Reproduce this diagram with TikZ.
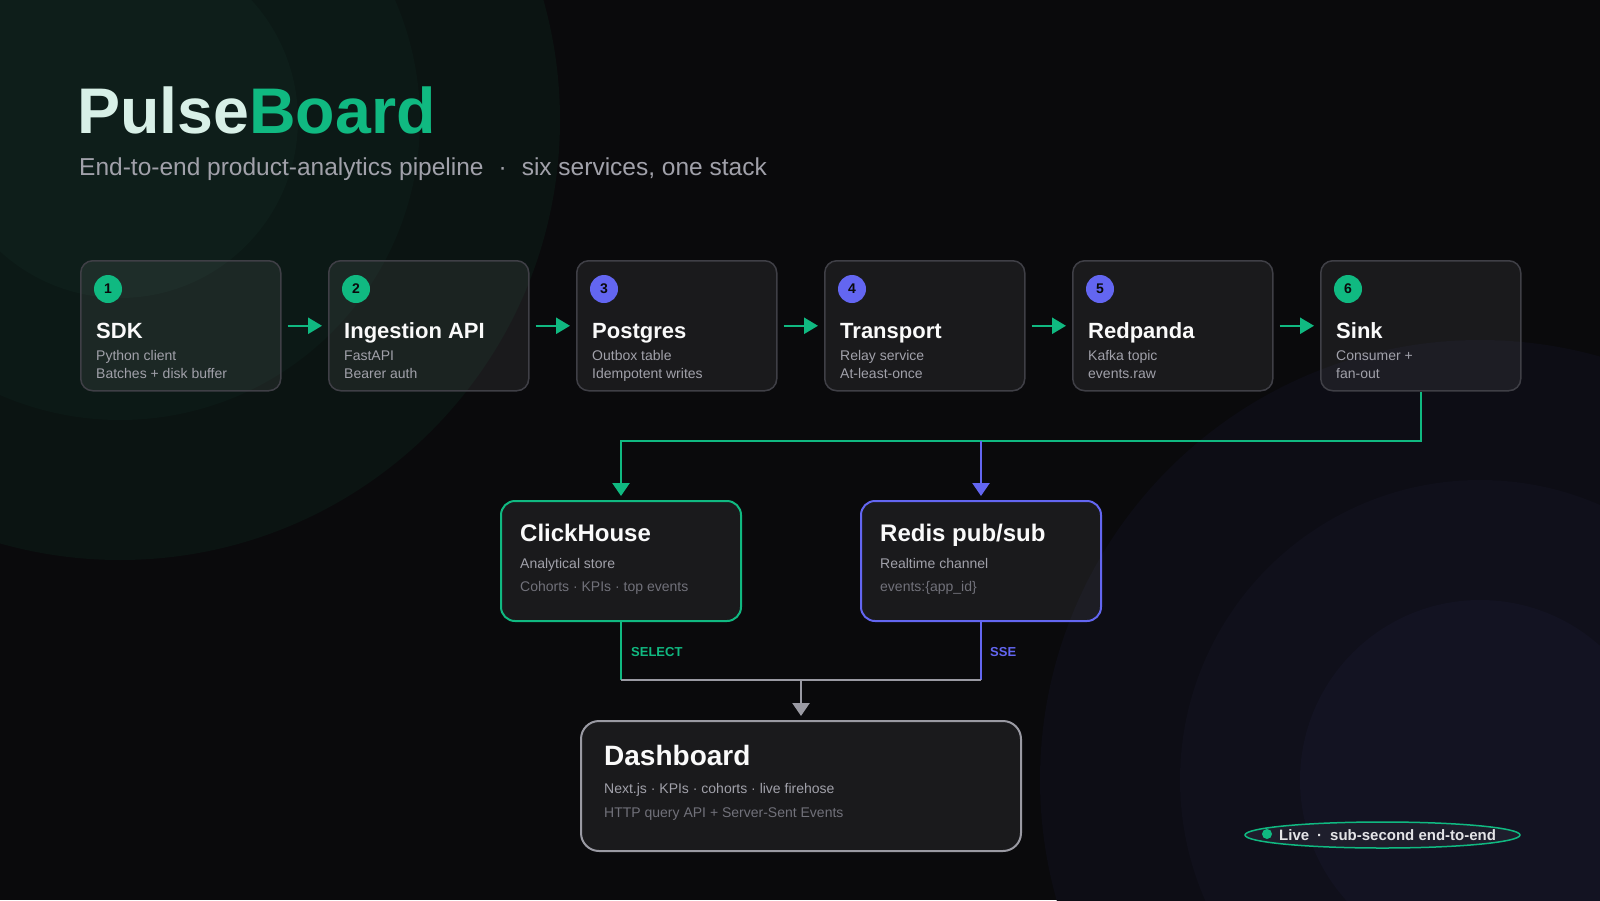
\documentclass[tikz,border=0pt]{standalone}
\usepackage{fontspec}
\setmainfont{Liberation Sans}
\usetikzlibrary{arrows.meta,shapes.geometric}
\definecolor{bg}{HTML}{0A0A0C}
\definecolor{tlA}{HTML}{0B1412}
\definecolor{tlB}{HTML}{0C1916}
\definecolor{tlC}{HTML}{0E1E1A}
\definecolor{brA}{HTML}{0D0D15}
\definecolor{brB}{HTML}{10101B}
\definecolor{brC}{HTML}{131322}
\definecolor{emer}{HTML}{10B981}
\definecolor{indi}{HTML}{6366F1}
\definecolor{pulse}{HTML}{D8F0E7}
\definecolor{edge}{HTML}{3F3F46}
\definecolor{titlec}{HTML}{FAFAFA}
\definecolor{subc}{HTML}{A1A1AA}
\definecolor{dimc}{HTML}{71717A}
\definecolor{grayl}{HTML}{9A9AA3}
\definecolor{pillc}{HTML}{1E1E2C}
\definecolor{pilltext}{HTML}{E4E4E7}
\tikzset{
  stage/.style={draw=edge, line width=1.5pt, rounded corners=12pt, fill=white, fill opacity=0.065,
    minimum width=200pt, minimum height=130pt, inner sep=0pt, anchor=north west},
  store/.style={draw=#1, line width=2pt, rounded corners=14pt, fill=white, fill opacity=0.065,
    minimum width=240pt, minimum height=120pt, inner sep=0pt, anchor=north west},
  badge/.style={circle, fill=#1, minimum size=28pt, inner sep=0pt, text=bg,
    font=\bfseries\fontsize{14}{14}\selectfont},
  stitle/.style={anchor=base west, inner sep=0pt, text=titlec, font=\bfseries\fontsize{22}{22}\selectfont},
  btitle/.style={anchor=base west, inner sep=0pt, text=titlec, font=\bfseries\fontsize{24}{24}\selectfont},
  ssub/.style={anchor=base west, inner sep=0pt, text=subc, font=\fontsize{14}{14}\selectfont},
  sdim/.style={anchor=base west, inner sep=0pt, text=dimc, font=\fontsize{14}{14}\selectfont},
  flow/.style={draw=emer, line width=2.5pt, -{Triangle[length=14pt,width=16pt]}, shorten <=6pt, shorten >=6pt},
  tipd/.style={-{Triangle[length=13pt,width=17pt]}, shorten >=4pt},
  lab/.style={anchor=base west, inner sep=0pt, font=\bfseries\fontsize{13}{13}\selectfont},
}
\begin{document}
\begin{tikzpicture}[x=1pt,y=-1pt]
\useasboundingbox (0,0) rectangle (1600,900);
\fill[bg] (0,0) rectangle (1600,900);
\begin{scope}
\clip (0,0) rectangle (1600,900);
\fill[tlA] (120,120) circle[radius=440pt];
\fill[tlB] (120,120) circle[radius=300pt];
\fill[tlC] (120,120) circle[radius=178pt];
\fill[brA] (1480,780) circle[radius=440pt];
\fill[brB] (1480,780) circle[radius=300pt];
\fill[brC] (1480,780) circle[radius=180pt];
\end{scope}

% title
\node[anchor=base west, inner sep=0pt, font=\bfseries\fontsize{64.5}{64.5}\selectfont] (title) at (77,133)
  {\textcolor{pulse}{Pulse}\textcolor{emer}{Board}};
\node[anchor=base west, inner sep=0pt, text=subc, font=\fontsize{24.5}{24.5}\selectfont] (subtitle) at (79,175)
  {End-to-end product-analytics pipeline\hspace{15pt}·\hspace{15pt}six services, one stack};

% stages
\node[stage] (b1) at (80,260) {};
\node[stage] (b2) at (328,260) {};
\node[stage] (b3) at (576,260) {};
\node[stage] (b4) at (824,260) {};
\node[stage] (b5) at (1072,260) {};
\node[stage] (b6) at (1320,260) {};

\node[badge=emer] (n1) at (108,289) {1};
\node[badge=emer] (n2) at (356,289) {2};
\node[badge=indi] (n3) at (604,289) {3};
\node[badge=indi] (n4) at (852,289) {4};
\node[badge=indi] (n5) at (1100,289) {5};
\node[badge=emer] (n6) at (1348,289) {6};

\node[stitle] (t1) at (96,338) {SDK};
\node[ssub] (s1a) at (96,360) {Python client};
\node[ssub] (s1b) at (96,378) {Batches + disk buffer};

\node[stitle] (t2) at (344,338) {Ingestion API};
\node[ssub] (s2a) at (344,360) {FastAPI};
\node[ssub] (s2b) at (344,378) {Bearer auth};

\node[stitle] (t3) at (592,338) {Postgres};
\node[ssub] (s3a) at (592,360) {Outbox table};
\node[ssub] (s3b) at (592,378) {Idempotent writes};

\node[stitle] (t4) at (840,338) {Transport};
\node[ssub] (s4a) at (840,360) {Relay service};
\node[ssub] (s4b) at (840,378) {At-least-once};

\node[stitle] (t5) at (1088,338) {Redpanda};
\node[ssub] (s5a) at (1088,360) {Kafka topic};
\node[ssub] (s5b) at (1088,378) {events.raw};

\node[stitle] (t6) at (1336,338) {Sink};
\node[ssub] (s6a) at (1336,360) {Consumer +};
\node[ssub] (s6b) at (1336,378) {fan-out};

\draw[flow] (b1.east) -- (b2.west);
\draw[flow] (b2.east) -- (b3.west);
\draw[flow] (b3.east) -- (b4.west);
\draw[flow] (b4.east) -- (b5.west);
\draw[flow] (b5.east) -- (b6.west);

% stores
\node[store=emer] (ch) at (500,500) {};
\node[store=indi] (rd) at (860,500) {};
\node[btitle] (cht) at (520,541) {ClickHouse};
\node[ssub] (chs) at (520,568) {Analytical store};
\node[sdim] (chd) at (520,591) {Cohorts · KPIs · top events};
\node[btitle] (rdt) at (880,541) {Redis pub/sub};
\node[ssub] (rds) at (880,568) {Realtime channel};
\node[sdim] (rdd) at (880,591) {events:\{app\_id\}};

\coordinate (bus) at (0,441);
\draw[emer, line width=2.5pt, tipd] (b6.south) |- (ch.north |- bus) -- (ch.north);
\draw[indi, line width=2.5pt, tipd] (rd.north |- bus) -- (rd.north);

% dashboard
\node[draw=grayl, line width=2pt, rounded corners=18pt, fill=white, fill opacity=0.065,
  minimum width=440pt, minimum height=130pt, inner sep=0pt, anchor=north west] (db) at (580,720) {};
\node[anchor=base west, inner sep=0pt, text=titlec, font=\bfseries\fontsize{28}{28}\selectfont] (dbt) at (604,765) {Dashboard};
\node[ssub] (dbs) at (604,793) {Next.js · KPIs · cohorts · live firehose};
\node[sdim] (dbd) at (604,817) {HTTP query API + Server-Sent Events};

\coordinate (merge) at (0,680);
\draw[emer, line width=2.5pt] (ch.south) -- (ch.south |- merge);
\draw[indi, line width=2.5pt] (rd.south) -- (rd.south |- merge);
\draw[grayl, line width=2.5pt] (ch.south |- merge) -- (rd.south |- merge);
\draw[grayl, line width=2.5pt, tipd] (db.north |- merge) -- (db.north);

\node[lab, text=emer] (sel) at (631,656) {SELECT};
\node[lab, text=indi] (sse) at (990,656) {SSE};

% live pill
\node[ellipse, draw=emer, line width=1.5pt, fill=pillc, minimum width=275pt, minimum height=26pt, inner sep=0pt] (live) at (1382.5,835) {};
\node[circle, fill=emer, minimum size=10pt, inner sep=0pt] (ldot) at (1267,834) {};
\node[anchor=base west, inner sep=0pt, text=pilltext, font=\bfseries\fontsize{15}{15}\selectfont] (livet) at (1279,840.5)
  {Live\hspace{8pt}·\hspace{8pt}sub-second end-to-end};
\end{tikzpicture}
\end{document}
